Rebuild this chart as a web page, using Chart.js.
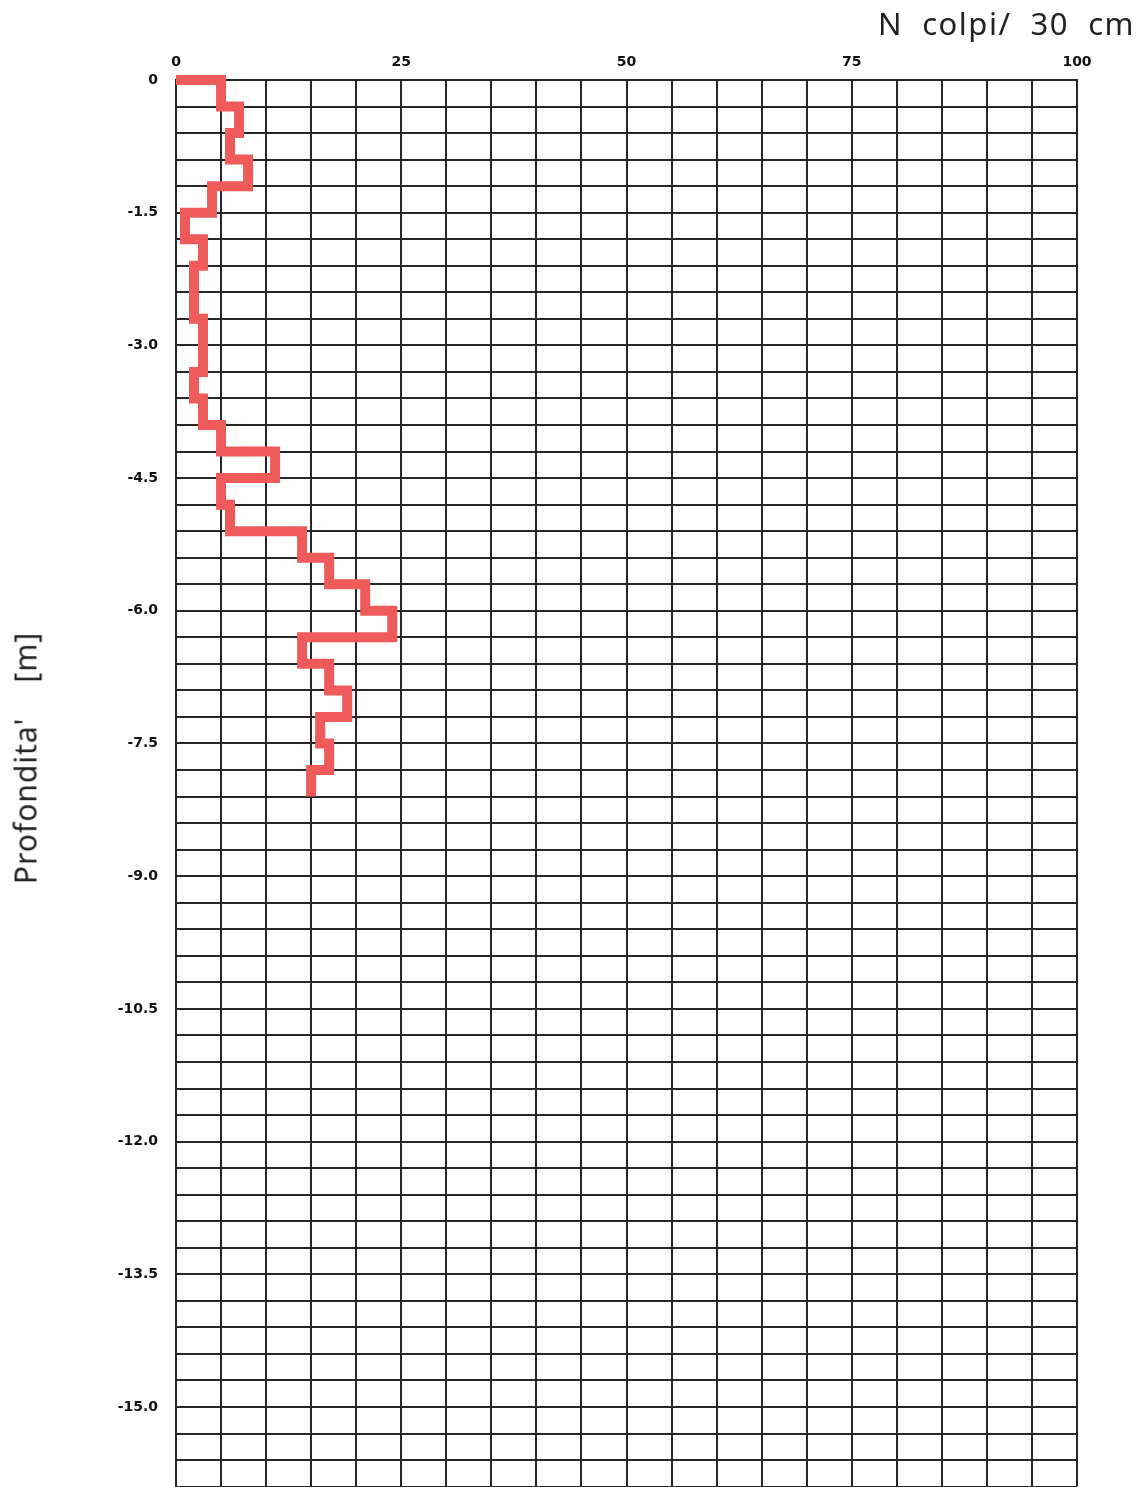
<!DOCTYPE html>
<html>
<head>
<meta charset="utf-8">
<script src="https://cdn.jsdelivr.net/npm/chart.js@4.4.1/dist/chart.umd.min.js"></script>
<style>
  html, body { margin: 0; padding: 0; background: #fff; overflow: hidden; }
  #wrap { position: relative; width: 1143px; height: 1487px; overflow: hidden; }
  #xTitle {
    position: absolute; right: 8px; top: 2px;
    font: 400 31px "Noto Sans", sans-serif; letter-spacing: 1.5px;
    white-space: pre; color: #222;
  }
  #yTitle {
    position: absolute; left: 25px; top: 758px;
    transform: translate(-50%, -50%) rotate(-90deg);
    font: 400 30px "Noto Sans", sans-serif; letter-spacing: 1px;
    white-space: pre; color: #222;
  }
</style>
</head>
<body>
<div id="wrap">
  <!-- canvas runs a little past the sheet so the grid is cut at the bottom edge -->
  <canvas id="profile" width="1143" height="1513"></canvas>
  <div id="xTitle">N  colpi/  30  cm</div>
  <div id="yTitle">Profondita'    [m]</div>
</div>
<script>
// one reading every 30 cm
const depthStep = 0.3;
const depthTo = [0.3, 0.6, 0.9, 1.2, 1.5, 1.8, 2.1, 2.4, 2.7, 3.0, 3.3, 3.6, 3.9, 4.2,
                 4.5, 4.8, 5.1, 5.4, 5.7, 6.0, 6.3, 6.6, 6.9, 7.2, 7.5, 7.8, 8.1];
const blows = [5, 7, 6, 8, 4, 1, 3, 2, 2, 3, 3, 2, 3, 5,
               11, 5, 6, 14, 17, 21, 24, 14, 17, 19, 16, 17, 15];
const xTickLabels = ['0', '25', '50', '75', '100'];
const yTickLabels = ['0', '-1.5', '-3.0', '-4.5', '-6.0', '-7.5', '-9.0',
                     '-10.5', '-12.0', '-13.5', '-15.0'];

// step profile: each reading is a vertical run over its 30 cm interval
const pts = [{x: 0, y: 0}];
blows.forEach((n, i) => {
  const top = i === 0 ? 0 : -depthTo[i - 1];
  pts.push({x: n, y: top});
  pts.push({x: n, y: -depthTo[i]});
});

// grid rows every 30 cm down to the bottom of the sheet
const gridDepths = [];
for (let i = 0; i <= 53; i++) gridDepths.push(Number((-i * depthStep).toFixed(1)));

const gridColor = '#262626';
const tickFont = {family: 'DejaVu Sans', size: 14, weight: 'bold'};

new Chart(document.getElementById('profile'), {
  type: 'scatter',
  data: {
    datasets: [{
      data: pts,
      showLine: true,
      borderColor: '#ef5a5a',
      borderWidth: 10,
      borderJoinStyle: 'miter',
      borderCapStyle: 'butt',
      pointRadius: 0,
      fill: false,
      clip: 10
    }]
  },
  options: {
    responsive: false,
    animation: false,
    layout: { padding: { top: 0, right: 66, bottom: 0, left: 0 } },
    plugins: { legend: { display: false }, tooltip: { enabled: false } },
    scales: {
      x: {
        type: 'linear',
        position: 'top',
        min: 0,
        max: 100,
        afterFit: s => { s.height = 80; },
        grid: { color: gridColor, lineWidth: 2, drawTicks: false },
        border: { color: gridColor, width: 2 },
        ticks: {
          stepSize: 5,
          autoSkip: false,
          maxRotation: 0,
          padding: 9,
          color: '#111',
          font: tickFont,
          callback: v => (v % 25 === 0 ? xTickLabels[v / 25] : '')
        }
      },
      y: {
        type: 'linear',
        min: -15.9,
        max: 0,
        afterFit: s => { s.width = 176; },
        afterBuildTicks: s => { s.ticks = gridDepths.map(v => ({value: v})); },
        grid: { color: gridColor, lineWidth: 2, drawTicks: false },
        border: { color: gridColor, width: 2 },
        ticks: {
          autoSkip: false,
          padding: 18,
          color: '#111',
          font: tickFont,
          callback: v => {
            const k = Math.round(-v / depthStep);
            return k % 5 === 0 ? yTickLabels[k / 5] : '';
          }
        }
      }
    }
  }
});
</script>
</body>
</html>
